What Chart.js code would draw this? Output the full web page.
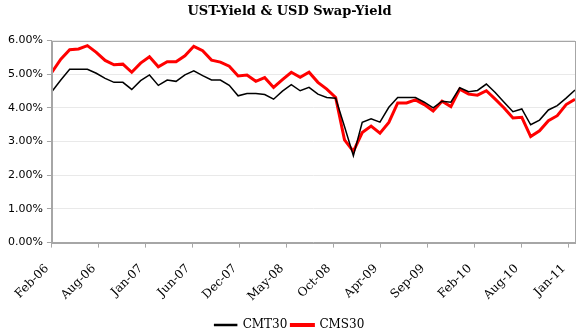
<!DOCTYPE html>
<html>
<head>
<meta charset="utf-8">
<script src="https://cdn.jsdelivr.net/npm/chart.js@4/dist/chart.umd.min.js"></script>
<style>
  html, body { margin: 0; padding: 0; background: #fff; }
  #wrap { width: 576px; height: 335px; }
</style>
</head>
<body>
<div id="wrap"><canvas id="c"></canvas></div>
<script>
// monthly points, Feb-06 .. Jan-11 (index 0..59)
const CMT30 = [4.49, 4.83, 5.15, 5.15, 5.15, 5.03, 4.88, 4.76, 4.76, 4.55,
               4.81, 4.98, 4.67, 4.83, 4.79, 4.98, 5.10, 4.96, 4.83, 4.83,
               4.67, 4.36, 4.43, 4.43, 4.40, 4.26, 4.50, 4.69, 4.51, 4.61,
               4.41, 4.31, 4.29, 3.45, 2.58, 3.57, 3.68, 3.58, 4.02, 4.31,
               4.31, 4.31, 4.17, 4.00, 4.20, 4.17, 4.60, 4.48, 4.52, 4.71,
               4.46, 4.17, 3.89, 3.97, 3.50, 3.64, 3.94, 4.07, 4.29, 4.53];
const CMS30 = [5.06, 5.45, 5.73, 5.75, 5.85, 5.65, 5.41, 5.28, 5.30, 5.06,
               5.33, 5.52, 5.22, 5.37, 5.37, 5.55, 5.83, 5.70, 5.42, 5.36,
               5.24, 4.95, 4.98, 4.79, 4.90, 4.61, 4.84, 5.06, 4.91, 5.06,
               4.76, 4.56, 4.31, 3.05, 2.71, 3.27, 3.46, 3.25, 3.57, 4.15,
               4.15, 4.24, 4.10, 3.91, 4.20, 4.04, 4.56, 4.41, 4.38, 4.51,
               4.26, 4.00, 3.70, 3.72, 3.15, 3.32, 3.62, 3.77, 4.10, 4.26];
const X_TICKS = ["Feb-06", "Aug-06", "Jan-07", "Jun-07", "Dec-07", "May-08",
                 "Oct-08", "Apr-09", "Sep-09", "Feb-10", "Aug-10", "Jan-11"];
const TICK_STEP = 5.3; // months between axis labels (date axis)

const pts = (arr) => arr.map((v, i) => ({ x: i, y: v }));

const frame = {
  id: "frame",
  afterDatasetsDraw(chart) {
    const { ctx, chartArea: a } = chart;
    ctx.save();
    ctx.strokeStyle = "#a6a6a6";
    ctx.lineWidth = 1;
    ctx.strokeRect(Math.round(a.left) + 0.5, Math.round(a.top) + 0.5,
                   Math.round(a.right - a.left), Math.round(a.bottom - a.top));
    ctx.restore();
  },
};

new Chart(document.getElementById("c"), {
  type: "line",
  data: {
    datasets: [
      { label: "CMT30", data: pts(CMT30), borderColor: "#000", backgroundColor: "#000",
        borderWidth: 1.5, pointRadius: 0, tension: 0 },
      { label: "CMS30", data: pts(CMS30), borderColor: "#ff0000", backgroundColor: "#ff0000",
        borderWidth: 3, pointRadius: 0, tension: 0 },
    ],
  },
  options: {
    responsive: true, maintainAspectRatio: false, animation: false,
    layout: { padding: { left: 4, right: 1, top: 2, bottom: -6 } },
    plugins: {
      title: { display: true, text: "UST-Yield & USD Swap-Yield", color: "#000",
               font: { family: "DejaVu Serif", size: 13, weight: "bold" }, padding: { top: 2, bottom: 21 } },
      legend: { position: "bottom",
                labels: { color: "#000", boxWidth: 22, boxHeight: 1, padding: 4,
                          font: { family: "DejaVu Serif", size: 12 } } },
      tooltip: { enabled: false },
    },
    scales: {
      x: {
        type: "linear", min: 0, max: CMT30.length - 1,
        afterBuildTicks: (s) => { s.ticks = X_TICKS.map((_, i) => ({ value: i * TICK_STEP })); },
        afterFit: (s) => { s.paddingRight = 0; s.height -= 3; },
        ticks: { autoSkip: false, minRotation: 45, maxRotation: 45, color: "#000",
                 font: { family: "DejaVu Serif", size: 12 }, padding: 14, labelOffset: -5,
                 callback: (v, i) => X_TICKS[i] },
        grid: { drawOnChartArea: false, color: "#a6a6a6", tickLength: 5 },
        border: { color: "#a6a6a6" },
      },
      y: {
        min: 0, max: 6,
        ticks: { stepSize: 1, color: "#000", padding: 4,
                 font: { family: "DejaVu Sans", size: 11 },
                 callback: (v) => v.toFixed(2) + "%" },
        grid: { color: "#e9e9e9", tickColor: "#a6a6a6", tickLength: 5 },
        border: { color: "#a6a6a6" },
      },
    },
  },
  plugins: [frame],
});
</script>
</body>
</html>
